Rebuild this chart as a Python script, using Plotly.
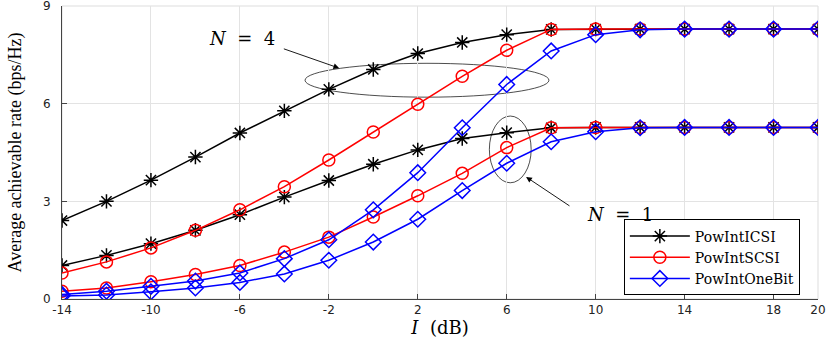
import plotly.graph_objects as go

x_vals = [-14, -12, -10, -8, -6, -4, -2, 0, 2, 4, 6, 8, 10, 12, 14, 16, 18, 20]

icsi_n4 = [2.41, 3.00, 3.65, 4.36, 5.10, 5.78, 6.44, 7.05, 7.54, 7.88, 8.12, 8.28, 8.29, 8.29, 8.29, 8.29, 8.29, 8.29]
scsi_n4 = [0.80, 1.14, 1.57, 2.11, 2.74, 3.45, 4.27, 5.13, 5.98, 6.84, 7.64, 8.28, 8.29, 8.29, 8.29, 8.29, 8.29, 8.29]
onebit_n4 = [0.14, 0.24, 0.39, 0.55, 0.80, 1.24, 1.82, 2.74, 3.88, 5.26, 6.59, 7.62, 8.12, 8.27, 8.29, 8.29, 8.29, 8.29]

icsi_n1 = [1.03, 1.34, 1.70, 2.11, 2.59, 3.13, 3.64, 4.14, 4.58, 4.93, 5.11, 5.26, 5.27, 5.27, 5.27, 5.27, 5.27, 5.27]
scsi_n1 = [0.24, 0.34, 0.53, 0.75, 1.03, 1.44, 1.90, 2.52, 3.17, 3.86, 4.65, 5.26, 5.27, 5.27, 5.27, 5.27, 5.27, 5.27]
onebit_n1 = [0.09, 0.12, 0.22, 0.34, 0.51, 0.77, 1.19, 1.75, 2.45, 3.33, 4.17, 4.83, 5.14, 5.26, 5.27, 5.27, 5.27, 5.27]

x_ticks = [-14, -10, -6, -2, 2, 6, 10, 14, 18, 20]
y_ticks = [0, 3, 6, 9]

series = [
    ("PowIntICSI", "black", "asterisk-open", icsi_n4, icsi_n1),
    ("PowIntSCSI", "red", "circle-open", scsi_n4, scsi_n1),
    ("PowIntOneBit", "blue", "diamond-open", onebit_n4, onebit_n1),
]

fig = go.Figure()
for name, color, sym, y4, y1 in series:
    for i, yv in enumerate([y4, y1]):
        fig.add_trace(go.Scatter(
            x=x_vals, y=yv, mode="lines+markers", name=name,
            legendgroup=name, showlegend=(i == 0),
            line=dict(color=color, width=1.5),
            marker=dict(symbol=sym, size=12, color=color,
                        line=dict(color=color, width=1.5)),
        ))

serif = "Liberation Serif, Times New Roman, serif"
wserif = "DejaVu Serif, serif"
sans = "DejaVu Sans, Arial, sans-serif"

# ellipses and arrows
fig.add_shape(type="circle", xref="x", yref="y", x0=-3.07, x1=7.9, y0=6.2, y1=7.24,
              line=dict(color="black", width=0.7), layer="below")
fig.add_shape(type="circle", xref="x", yref="y", x0=5.22, x1=7.1, y0=3.57, y1=5.62,
              line=dict(color="black", width=0.7), layer="below")

fig.add_annotation(x=-1.53, y=7.09, ax=-4.09, ay=7.70, xref="x", yref="y",
                   axref="x", ayref="y", showarrow=True, arrowhead=2, arrowsize=1.3,
                   arrowwidth=0.9, arrowcolor="black", text="")
fig.add_annotation(x=6.87, y=3.75, ax=8.89, ay=2.83, xref="x", yref="y",
                   axref="x", ayref="y", showarrow=True, arrowhead=2, arrowsize=1.3,
                   arrowwidth=0.9, arrowcolor="black", text="")
fig.add_annotation(x=-5.9, y=8.0, xref="x", yref="y", showarrow=False,
                   text="<i>N</i>&nbsp;&nbsp;=&nbsp;&nbsp;4", font=dict(family=wserif, size=18, color="black"))
fig.add_annotation(x=11.1, y=2.6, xref="x", yref="y", showarrow=False,
                   text="<i>N</i>&nbsp;&nbsp;=&nbsp;&nbsp;1", font=dict(family=wserif, size=18, color="black"))

fig.update_layout(
    width=830, height=338,
    margin=dict(l=62, r=12, t=6, b=39),
    paper_bgcolor="white", plot_bgcolor="white",
    legend=dict(x=0.976, y=0.012, xanchor="right", yanchor="bottom",
                bgcolor="white", bordercolor="black", borderwidth=1,
                font=dict(family=wserif, size=14, color="black"),
                tracegroupgap=0, itemwidth=60),
)
fig.update_xaxes(
    range=[-14, 20], tickvals=x_ticks, ticktext=[str(t) for t in x_ticks],
    showgrid=True, gridcolor="#e3e3e3", gridwidth=1,
    showline=True, linecolor="#444", linewidth=1, mirror=False,
    ticks="inside", ticklen=5, tickcolor="#444",
    tickfont=dict(family=sans, size=12, color="#222"),
    ticklabeloverflow="allow",
    title=dict(text="<i>I</i>&nbsp;&nbsp;(dB)", font=dict(family=wserif, size=18, color="black"), standoff=0),
    zeroline=False, automargin=False,
)
fig.update_yaxes(
    range=[0, 9], tickvals=y_ticks,
    showgrid=True, gridcolor="#e3e3e3", gridwidth=1,
    showline=True, linecolor="#444", linewidth=1,
    ticks="inside", ticklen=5, tickcolor="#444",
    tickfont=dict(family=sans, size=12, color="#222"),
    ticklabeloverflow="allow", ticklabelstandoff=8,
    title=dict(text="Average achievable rate (bps/Hz)", font=dict(family=serif, size=18, color="black"), standoff=16),
    zeroline=False, automargin=False,
)
# light frame on top and right
fig.add_shape(type="rect", xref="paper", yref="paper", x0=0, x1=1, y0=0, y1=1,
              line=dict(color="#dddddd", width=1), layer="below")

fig.write_html("out.html", config={"displayModeBar": False},
               post_script="document.body.style.margin='0';")
